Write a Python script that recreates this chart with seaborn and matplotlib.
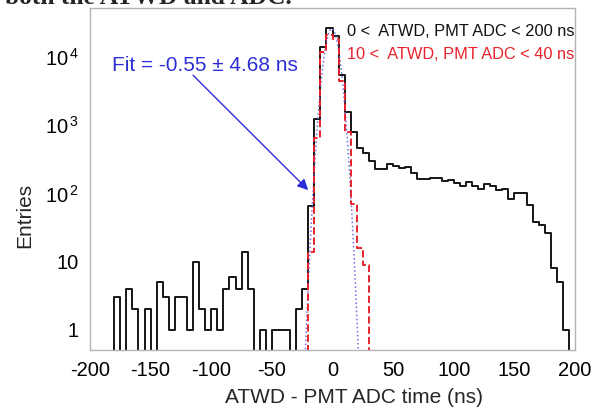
import numpy as np
import pandas as pd
import matplotlib.pyplot as plt
import seaborn as sns
from matplotlib.ticker import FixedLocator, MultipleLocator, NullFormatter

# bins: 5 ns wide from -200 to 200 ns
bin_width = 5
x_lo, x_hi = -200, 200

# 0 < ATWD, PMT ADC < 200 ns  (black), one value per 5 ns bin, left to right
black_counts = [
    0, 0, 0, 0, 3, 0, 4, 2, 0, 2,                # -200 .. -155
    0, 5, 3, 1, 3, 3, 1, 10, 2, 1,               # -150 .. -105
    2, 1, 4, 6, 4, 14, 4, 0, 1, 0,               # -100 .. -55
    1, 1, 1, 0, 2, 4, 65, 1230, 13900, 27000,    # -50 .. -5
    20000, 5500, 1540, 785, 470, 390, 300, 231, 231, 267,   # 0 .. 45
    253, 238, 243, 201, 164, 164, 170, 166, 151, 160,       # 50 .. 95
    144, 128, 148, 128, 117, 136, 128, 114, 117, 83,        # 100 .. 145
    102, 102, 68, 38, 35, 26, 8, 5, 1, 0,                   # 150 .. 195
]

# 10 < ATWD, PMT ADC < 40 ns  (red), only the non-empty stretch
red_bin_lo = [-25, -20, -15, -10, -5, 0, 5, 10, 15, 20, 25, 30]
red_counts = [0, 14, 650, 12000, 21000, 18500, 4500, 800, 69, 16, 9, 0]

# gaussian fit shown in the plot
fit_mean = -0.55
fit_sigma = 4.68
fit_amp = 26000

edges = [float(e) for e in np.arange(x_lo, x_hi + bin_width, bin_width)]
centers = [e + bin_width / 2 for e in edges[:-1]]
black_df = pd.DataFrame({'t': centers, 'n': black_counts})

red_edges = [float(e) for e in red_bin_lo] + [red_bin_lo[-1] + bin_width]
red_df = pd.DataFrame({'t': [e + bin_width / 2 for e in red_bin_lo], 'n': red_counts})

fit_x = np.linspace(-26, 26, 400)
fit_df = pd.DataFrame({'t': fit_x,
                       'n': fit_amp * np.exp(-(fit_x - fit_mean) ** 2 / (2 * fit_sigma ** 2))})

sns.set_style('white')
plt.rcParams['font.family'] = ['Liberation Sans', 'DejaVu Sans']
plt.rcParams['mathtext.fontset'] = 'custom'
plt.rcParams['mathtext.rm'] = 'Liberation Sans'
plt.rcParams['mathtext.default'] = 'regular'
plt.rcParams['axes.unicode_minus'] = False

fig = plt.figure(figsize=(6.02, 4.13), dpi=100)
ax = fig.add_axes([90 / 602, 1 - 350 / 413, 485 / 602, 342 / 413])

sns.histplot(data=black_df, x='t', weights='n', bins=edges, element='step',
             fill=False, color='#151515', linewidth=1.4, ax=ax)
sns.lineplot(data=fit_df, x='t', y='n', color='#6f6fe0', linestyle=':',
             linewidth=1.1, ax=ax)
sns.histplot(data=red_df, x='t', weights='n', bins=red_edges, element='step',
             fill=False, color='#e8222c', linewidth=1.4, linestyle='--', ax=ax)

ax.set_yscale('log')
ax.set_xlim(x_lo, x_hi)
ax.set_ylim(0.509, 52200)

ax.xaxis.set_major_locator(MultipleLocator(50))
ax.xaxis.set_minor_locator(MultipleLocator(10))
ax.yaxis.set_major_locator(FixedLocator([1, 10, 100, 1000, 10000]))
ax.set_yticklabels(['1', '10', '10$^{\\,2}$', '10$^{\\,3}$', '10$^{\\,4}$'])
minor_y = [m * 10 ** d for d in range(-1, 5) for m in range(2, 10)]
ax.yaxis.set_minor_locator(FixedLocator(minor_y))
ax.yaxis.set_minor_formatter(NullFormatter())

ax.tick_params(axis='both', which='both', direction='in', color='#a8a8a8',
               labelsize=14.5, labelcolor='black')
ax.tick_params(axis='both', which='major', length=7, width=1, pad=8)
ax.tick_params(axis='both', which='minor', length=4, width=0.8)
for side in ['left', 'right', 'top', 'bottom']:
    ax.spines[side].set_visible(True)
    ax.spines[side].set_color('#b4b4b4')
    ax.spines[side].set_linewidth(1)

ax.set_xlabel('ATWD - PMT ADC time (ns)', fontsize=15)
ax.set_ylabel('Entries', fontsize=15)
ax.xaxis.set_label_coords((354 - 90) / 485, -38 / 342)
ax.yaxis.set_label_coords(-56 / 485, (350 - 215) / 342)

fit_blue = '#2d2fd6'
ax.text(-105, 7600, 'Fit = -0.55 \u00b1 4.68 ns', color=fit_blue, fontsize=15,
        ha='center', va='center')
ax.annotate('', xy=(-20, 112), xytext=(-115, 5400),
            arrowprops=dict(arrowstyle='-|>', color=fit_blue, lw=1.0,
                            mutation_scale=16, shrinkA=0, shrinkB=0))

ax.text(0.998, 0.93, '0 <  ATWD, PMT ADC < 200 ns', transform=ax.transAxes,
        color='#111111', fontsize=11.8, ha='right', va='center')
ax.text(0.998, 0.863, '10 <  ATWD, PMT ADC < 40 ns', transform=ax.transAxes,
        color='#e8222c', fontsize=11.8, ha='right', va='center')

# bottom edge of the document line cropped above the chart
fig.text(5 / 602, 1 - 4 / 413, 'both the ATWD and ADC.', family='Liberation Serif',
         weight='bold', fontsize=18.4, ha='left', va='baseline')

fig.savefig('out.png', dpi=100)
